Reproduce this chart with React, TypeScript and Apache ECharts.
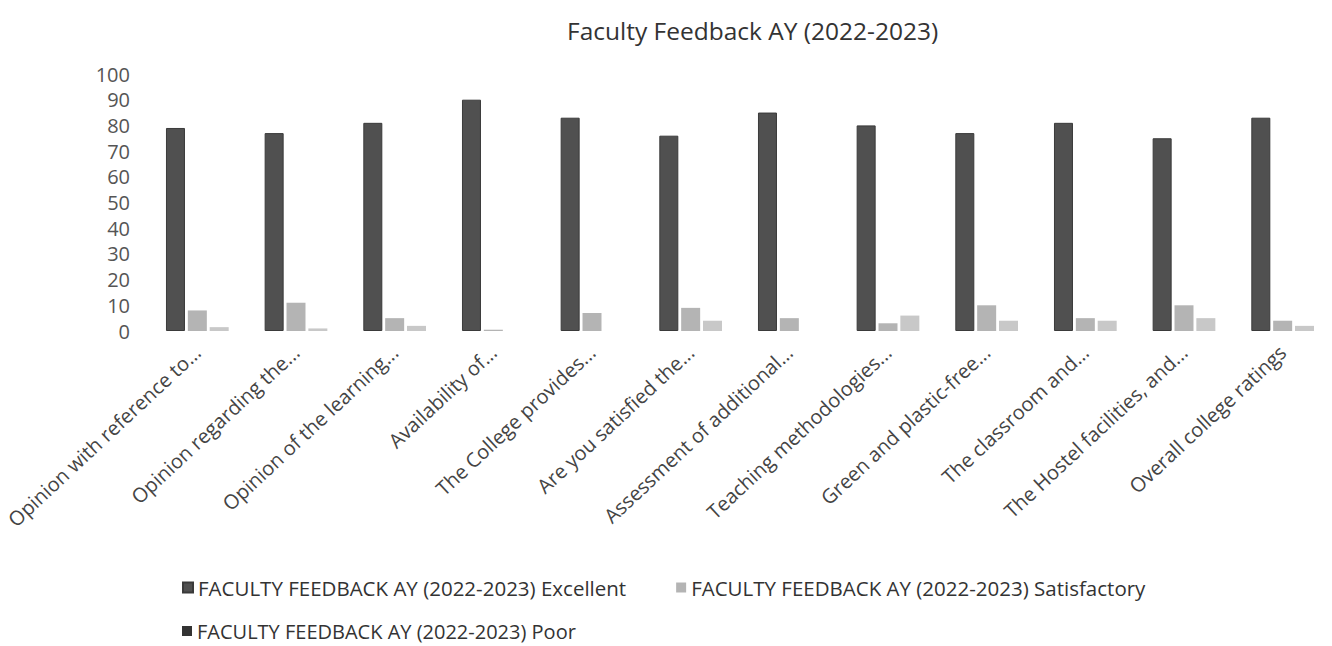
import React, { useEffect, useRef } from "react";
import * as echarts from "echarts";

const categories = [
  "Opinion with reference to...",
  "Opinion regarding the...",
  "Opinion of the learning...",
  "Availability of...",
  "The College provides...",
  "Are you satisfied the...",
  "Assessment of additional...",
  "Teaching methodologies...",
  "Green and plastic-free...",
  "The classroom and...",
  "The Hostel facilities, and...",
  "Overall college ratings",
];
const excellent = [79, 77, 81, 90, 83, 76, 85, 80, 77, 81, 75, 83];
const satisfactory = [8, 11, 5, 0.5, 7, 9, 5, 3, 10, 5, 10, 4];
const poor = [1.5, 1, 2, 0, 0, 4, 0, 6, 4, 4, 5, 2];
const yTicks = [0, 10, 20, 30, 40, 50, 60, 70, 80, 90, 100];

const nameEx = "FACULTY FEEDBACK AY (2022-2023) Excellent";
const nameSat = "FACULTY FEEDBACK AY (2022-2023) Satisfactory";
const namePoor = "FACULTY FEEDBACK AY (2022-2023) Poor";

const FONT = "'Open Sans', 'Noto Sans', sans-serif";

export default function App() {
  const ref = useRef<HTMLDivElement>(null);
  useEffect(() => {
    if (!ref.current) return;
    const chart = echarts.init(ref.current, undefined, { renderer: "svg" });
    chart.setOption({
      animation: false,
      backgroundColor: "#ffffff",
      textStyle: { fontFamily: FONT },
      title: {
        text: "Faculty Feedback AY (2022-2023)",
        left: 562,
        top: 13,
        textStyle: { fontFamily: FONT, fontSize: 24.5, fontWeight: "normal", color: "#333" },
      },
      legend: [
        {
          data: [nameEx, nameSat],
          left: 182,
          top: 577,
          padding: 0,
          itemWidth: 10,
          itemHeight: 10,
          itemGap: 50,
          icon: "rect",
          textStyle: { fontFamily: FONT, fontSize: 20.5, color: "#333" },
        },
        {
          data: [{ name: namePoor, itemStyle: { color: "#333" } }],
          left: 182,
          top: 621,
          padding: 0,
          itemWidth: 10,
          itemHeight: 10,
          icon: "rect",
          textStyle: { fontFamily: FONT, fontSize: 20, color: "#333" },
        },
      ],
      grid: { left: 148, width: 1194, top: 74, bottom: 315, containLabel: false },
      xAxis: {
        type: "category",
        data: categories,
        axisLine: { show: false },
        axisTick: { show: false },
        axisLabel: {
          rotate: 43,
          interval: 0,
          margin: 18,
          fontFamily: FONT,
          fontSize: 20,
          color: "#444",
        },
      },
      yAxis: {
        type: "value",
        min: yTicks[0],
        max: yTicks[yTicks.length - 1],
        interval: 10,
        splitLine: { show: false },
        axisLine: { show: false },
        axisTick: { show: false },
        axisLabel: { fontFamily: FONT, fontSize: 20, color: "#555", margin: 18 },
      },
      series: [
        {
          name: nameEx,
          type: "bar",
          data: excellent,
          barWidth: 19,
          barGap: "15%",
          itemStyle: { color: "#505050", borderColor: "#3a3a3a", borderWidth: 1 },
        },
        {
          name: nameSat,
          type: "bar",
          data: satisfactory,
          barWidth: 19,
          itemStyle: { color: "#b4b4b4" },
        },
        {
          name: namePoor,
          type: "bar",
          data: poor,
          barWidth: 19,
          itemStyle: { color: "#c8c8c8" },
        },
      ],
    });
    return () => chart.dispose();
  }, []);
  return (
    <div
      ref={ref}
      style={{ position: "absolute", left: 0, top: 0, width: 1332, height: 646 }}
    />
  );
}
